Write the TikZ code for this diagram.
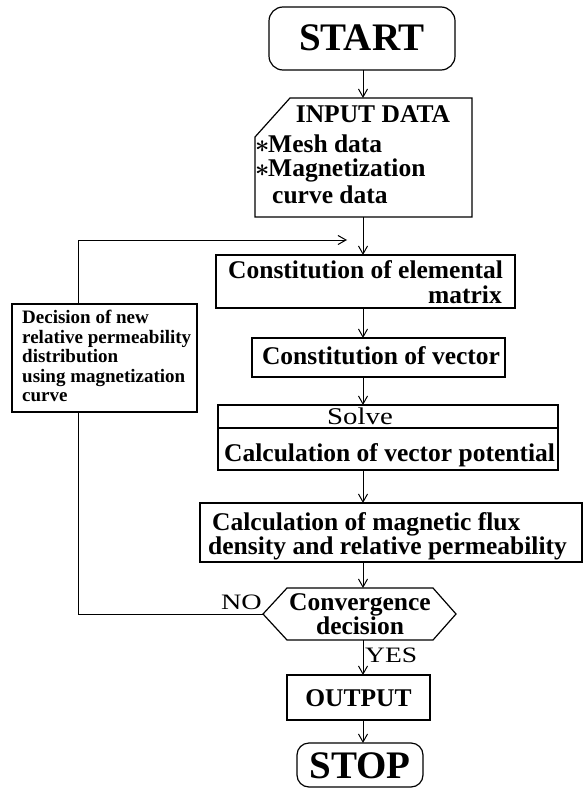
\documentclass[tikz,border=0pt]{standalone}
\usepackage{fontspec}
\setmainfont{Liberation Serif}
\usetikzlibrary{arrows.meta}
\begin{document}
\begin{tikzpicture}[x=1pt,y=-1pt,
  box/.style={draw, line width=1.2pt, inner sep=0pt, outer sep=0pt, rectangle},
  shapebox/.style={draw=none, inner sep=0pt, outer sep=0pt, rectangle},
  outline/.style={draw, line width=1.2pt, line join=miter},
  btxt/.style={inner sep=0pt, font=\bfseries\fontsize{25.5}{26}\selectfont},
  bigtxt/.style={inner sep=0pt, anchor=base, font=\bfseries\fontsize{39}{40}\selectfont},
  smalltxt/.style={inner sep=0pt, anchor=base west, font=\bfseries\fontsize{19}{20}\selectfont},
  regtxt/.style={inner sep=0pt, font=\fontsize{22}{24}\selectfont\addfontfeature{FakeStretch=1.28}},
  asttxt/.style={inner sep=0pt, anchor=base west, font=\fontsize{26}{26}\selectfont\boldmath},
  conn/.style={line width=1pt, -{Straight Barb[length=8pt,width=9pt]}},
  wire/.style={line width=1pt}]
\useasboundingbox (0,0) rectangle (585,789);
\coordinate (ax) at (363,0);
\coordinate (fb) at (78,240);
\coordinate (fbend) at (347,240);

% START
\node[box, rounded corners=14pt, minimum width=186pt, minimum height=63pt] (start) at (362,38.5) {};
\node[bigtxt] (starttxt) at (362,50.5) {START};

% INPUT DATA
\node[shapebox, minimum width=217pt, minimum height=119pt] (input) at (363.5,157.5) {};
\draw[outline] ([xshift=35pt]input.north west) -- (input.north east) -- (input.south east)
  -- (input.south west) -- ([yshift=-39pt]input.north west) -- cycle;
\node[btxt, anchor=base] (inputtitle) at (373,122) {INPUT DATA};
\node[asttxt] (ast1) at (255,152) {$\ast$};
\node[btxt, anchor=base west] (mesh) at (268,152) {Mesh data};
\node[asttxt] (ast2) at (255,176) {$\ast$};
\node[btxt, anchor=base west] (magn) at (268,176) {Magnetization};
\node[btxt, anchor=base west] (curve) at (272,203) {curve data};

% Constitution of elemental matrix
\node[box, minimum width=299pt, minimum height=53pt] (elem) at (365.5,281.5) {};
\node[btxt, anchor=base west] (elem1) at (228,278) {Constitution of elemental};
\node[btxt, anchor=base east] (elem2) at (502,303) {matrix};

% Constitution of vector
\node[box, minimum width=253pt, minimum height=39pt] (vec) at (378.5,357.5) {};
\node[btxt, anchor=base] (vectxt) at (381,364) {Constitution of vector};

% Solve / Calculation of vector potential
\node[box, minimum width=340pt, minimum height=65pt] (solve) at (388,437.5) {};
\draw[line width=1.2pt] ([yshift=-23pt]solve.north west) -- ([yshift=-23pt]solve.north east);
\node[regtxt, anchor=base, font=\fontsize{24}{26}\selectfont\addfontfeature{FakeStretch=1.2}] (solvetxt) at (360,424) {Solve};
\node[btxt, anchor=base west] (calcvec) at (224,461) {Calculation of vector potential};

% Flux
\node[box, minimum width=382pt, minimum height=59pt] (flux) at (391,532.5) {};
\node[btxt, anchor=base west] (flux1) at (212,530) {Calculation of magnetic flux};
\node[btxt, anchor=base west] (flux2) at (208,554) {density and relative permeability};

% Convergence decision
\node[shapebox, minimum width=193pt, minimum height=52pt] (conv) at (359.5,614) {};
\draw[outline] (conv.west) -- ([xshift=24pt]conv.north west) -- ([xshift=-23pt]conv.north east)
  -- (conv.east) -- ([xshift=-23pt]conv.south east) -- ([xshift=24pt]conv.south west) -- cycle;
\node[btxt, anchor=base] (conv1) at (360,610) {Convergence};
\node[btxt, anchor=base] (conv2) at (360,634) {decision};
\node[regtxt, anchor=base east] (no) at (262,609) {NO};
\node[regtxt, anchor=base west, font=\fontsize{22}{24}\selectfont\addfontfeature{FakeStretch=1.25}] (yes) at (365,662) {YES};

% OUTPUT
\node[box, minimum width=143pt, minimum height=45pt] (out) at (358.5,697.5) {};
\node[btxt, anchor=base] (outtxt) at (358.5,706) {OUTPUT};

% STOP
\node[box, rounded corners=12pt, minimum width=126pt, minimum height=44pt] (stop) at (360,765) {};
\node[bigtxt] (stoptxt) at (360,778) {STOP};

% Decision of new permeability
\node[box, minimum width=185pt, minimum height=108pt] (dec) at (104.5,358) {};
\node[smalltxt] (dec1) at (22,323) {Decision of new};
\node[smalltxt] (dec2) at (22,343) {relative permeability};
\node[smalltxt] (dec3) at (22,362) {distribution};
\node[smalltxt] (dec4) at (22,382) {using magnetization};
\node[smalltxt] (dec5) at (22,401) {curve};

% connectors
\draw[conn] (ax |- start.south) -- (ax |- input.north);
\draw[conn] (ax |- input.south) -- (ax |- elem.north);
\draw[conn] (ax |- elem.south) -- (ax |- vec.north);
\draw[conn] (ax |- vec.south) -- (ax |- solve.north);
\draw[conn] (ax |- solve.south) -- (ax |- flux.north);
\draw[conn] (ax |- flux.south) -- (ax |- conv.north);
\draw[conn] (ax |- conv.south) -- (ax |- out.north);
\draw[conn] (ax |- out.south) -- (ax |- stop.north);
\draw[wire] (conv.west) -- (conv.west -| fb) -- (fb |- dec.south);
\draw[conn] (fb |- dec.north) -- (fb) -- (fbend);
\end{tikzpicture}
\end{document}
